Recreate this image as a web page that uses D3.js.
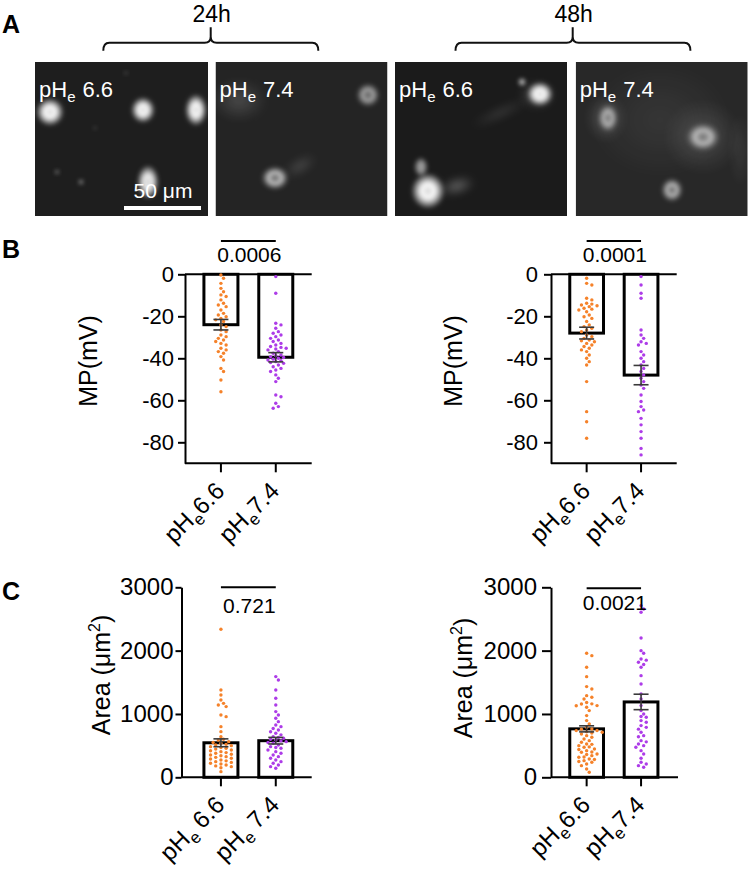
<!DOCTYPE html>
<html>
<head>
<meta charset="utf-8">
<script src="https://cdn.jsdelivr.net/npm/d3@7"></script>
<style>
  body { margin: 0; background: #fff; }
  text { font-family: "Liberation Sans", Arial, Helvetica, sans-serif; }
</style>
</head>
<body>
<svg id="fig" width="749" height="873"></svg>
<script>
// ---------------------------------------------------------------
// Données
const groups = ["6.6", "7.4"];            // pHe des deux conditions
const groupColors = ["#f5822a", "#ad3ce8"];

const mpTicks = [0, -20, -40, -60, -80];
const areaTicks = [0, 1000, 2000, 3000];

const mpMean24 = [-24, -39.5];
const mpSem24 = [2.5, 2.2];
const mpMean48 = [-28, -48];
const mpSem48 = [2.8, 4.6];
const areaMean24 = [545, 578];
const areaSem24 = [62, 52];
const areaMean48 = [765, 1190];
const areaSem48 = [48, 122];

const pValues = ["0.0006", "0.0001", "0.721", "0.0021"];

// potentiel de membrane (mV), 24h
const mpAcid24 = [-0.3, -1.9, -4.3, -6.7, -8.3, -9.8, -10.6, -12.2, -13.8, -14.6, -15.4, -17, -18.6, -19.4,
  -20.2, -21, -21.7, -22.5, -24.1, -24.9, -26.5, -27.3, -28.9, -29.7, -30.5, -31.3, -32, -32.9, -33.7,
  -35.2, -36, -36.8, -37.6, -39.2, -40.8, -44.8, -46.3, -50.3, -55.9];
const mpNeutral24 = [-1.1, -9, -23.3, -24.1, -25.7, -27.3, -28.1, -28.9, -29.7, -30.5, -31.3, -32, -32.9,
  -33.7, -34.4, -35.2, -36, -36.8, -37.6, -38.4, -39.2, -40, -40.8, -41.6, -42.4, -43.2, -44, -44.8, -45.6,
  -46.3, -47.9, -49.5, -51.1, -57.5, -58.3, -61.4, -63, -63.8, -38.8, -39.6, -40.4, -41.2, -42, -35.6, -34.8];
// potentiel de membrane (mV), 48h
const mpAcid48 = [-1.9, -4.3, -5.1, -11.4, -12.2, -13.8, -14.6, -15.4, -16.2, -17, -17.8, -19.4, -21, -22.5,
  -24.1, -24.9, -25.7, -27.3, -28.9, -30.5, -31.3, -32.1, -32.9, -33.7, -34.4, -35.2, -36, -36.8, -38.4, -40,
  -41.6, -43.2, -51.1, -65.4, -70.2, -78.1, -14.2, -15, -16.6, -20.2, -26.5, -29.7, -31.7];
const mpNeutral48 = [-1.1, -5.1, -9, -11.4, -26.5, -28.9, -30.5, -32.1, -32.9, -33.7, -36.8, -38.4, -40, -41.6,
  -43.2, -44.8, -46.3, -47.9, -49.5, -51.1, -52.7, -54.3, -57.5, -60.6, -63, -64.6, -65.4, -68.6, -71.7,
  -74.9, -78.1, -82.9, -86];
// surface cellulaire (µm²), 24h
const areaAcid24 = [2337, 1379, 1300, 1221, 1168, 1142, 1116, 984, 958, 800, 721, 642, 600, 589, 563, 550, 537,
  520, 510, 500, 484, 470, 458, 445, 431, 420, 405, 390, 379, 365, 353, 340, 326, 315, 300, 290, 274, 260, 247,
  235, 221, 210, 195, 180, 168, 150, 89];
const areaNeutral24 = [1590, 1537, 1379, 1247, 1142, 1037, 984, 932, 879, 826, 800, 770, 747, 720, 695, 670, 642,
  630, 616, 600, 589, 575, 563, 550, 537, 510, 484, 470, 458, 431, 405, 379, 353, 326, 300, 274, 247, 221, 195,
  168, 142];
// surface cellulaire (µm²), 48h
const areaAcid48 = [1958, 1921, 1737, 1589, 1432, 1395, 1289, 1263, 1237, 1158, 1132, 1105, 1053, 974, 895, 842,
  789, 763, 737, 711, 684, 658, 632, 605, 579, 553, 526, 500, 474, 447, 421, 395, 368, 342, 316, 289, 263, 237,
  184, 132, 79, 1180, 1160, 1130, 760, 740, 720, 700, 520, 480, 440, 400, 360, 320, 280, 250, 210];
const areaNeutral48 = [2711, 2658, 2605, 2200, 2000, 1958, 1868, 1816, 1737, 1605, 1474, 1316, 1237, 1132, 1053,
  1000, 947, 895, 816, 789, 711, 658, 579, 526, 500, 474, 421, 368, 237, 211, 184, 158, 1780, 1850, 960, 870,
  760, 640, 560, 300];

// ---------------------------------------------------------------
const svg = d3.select("#fig");
const defs = svg.append("defs");

[["blur", 2.2], ["blurMid", 4], ["blurBig", 9]].forEach(f =>
  defs.append("filter").attr("id", f[0]).attr("x", "-60%").attr("y", "-60%").attr("width", "220%").attr("height", "220%")
    .append("feGaussianBlur").attr("stdDeviation", f[1]));

// dégradés : cellule compacte et cellule étalée (noyau plus sombre, anneau clair)
const gradStops = {
  cell: [[0, "#d0d0d0", 1], [0.4, "#ffffff", 1], [0.7, "#ffffff", 0.55], [1, "#ffffff", 0]],
  ring: [[0, "#9a9a9a", 0.55], [0.5, "#ffffff", 0.9], [0.72, "#ffffff", 0.35], [1, "#ffffff", 0]],
  haze: [[0, "#ffffff", 0.6], [1, "#ffffff", 0]]
};
Object.entries(gradStops).forEach(([id, stops]) => {
  const gr = defs.append("radialGradient").attr("id", id);
  stops.forEach(s => gr.append("stop").attr("offset", s[0]).attr("stop-color", s[1]).attr("stop-opacity", s[2]));
});

// ---------------------------------------------------------------
// Panneau A : images de microscopie (approximation)
const microPanels = [
  { x: 35, w: 173, bg: "#1e1e1e", label: "6.6" },
  { x: 215.5, w: 172, bg: "#242424", label: "7.4" },
  { x: 395, w: 172, bg: "#1b1b1b", label: "6.6" },
  { x: 575.7, w: 172, bg: "#282828", label: "7.4" }
];
const microCells = [
  [ { cx: 50, cy: 112, rx: 14, ry: 14, o: 1 }, { cx: 143, cy: 110, rx: 12, ry: 13, o: 1 },
    { cx: 196, cy: 110, rx: 11, ry: 16, o: 1 }, { cx: 148, cy: 182, rx: 11, ry: 17, o: 0.95 },
    { cx: 57, cy: 172, rx: 2, ry: 2, o: 0.7 }, { cx: 81, cy: 182, rx: 2.5, ry: 2.5, o: 0.7 },
    { cx: 126, cy: 73, rx: 1.5, ry: 1.5, o: 0.5 }, { cx: 95, cy: 128, rx: 1.5, ry: 1.5, o: 0.4 } ],
  [ { cx: 239, cy: 100, rx: 28, ry: 22, o: 0.3, f: "blurMid", gr: "haze" }, { cx: 368, cy: 95, rx: 12, ry: 12, o: 0.7, gr: "ring" },
    { cx: 300, cy: 166, rx: 18, ry: 7, o: 0.35, rot: -30, f: "blurMid", gr: "haze" },
    { cx: 275, cy: 178, rx: 14, ry: 12, o: 0.85, gr: "ring" } ],
  [ { cx: 500, cy: 113, rx: 32, ry: 5, o: 0.3, rot: -24, f: "blurMid", gr: "haze" },
    { cx: 522, cy: 82, rx: 4, ry: 4, o: 0.8 },
    { cx: 537, cy: 95, rx: 18, ry: 14, o: 0.45, f: "blurMid", gr: "haze" },
    { cx: 540, cy: 94, rx: 13, ry: 12, o: 1 },
    { cx: 457, cy: 186, rx: 18, ry: 8, o: 0.65, rot: -15, f: "blurMid", gr: "haze" },
    { cx: 421, cy: 167, rx: 7, ry: 10, o: 0.6 },
    { cx: 428, cy: 191, rx: 17, ry: 18, o: 1 } ],
  [ { cx: 660, cy: 120, rx: 75, ry: 60, o: 0.12, f: "blurBig", gr: "haze" },
    { cx: 606, cy: 118, rx: 20, ry: 24, o: 0.35, f: "blurMid", gr: "haze" },
    { cx: 608, cy: 118, rx: 10, ry: 14, o: 0.7, gr: "ring" },
    { cx: 703, cy: 137, rx: 40, ry: 38, o: 0.25, f: "blurMid", gr: "haze" },
    { cx: 703, cy: 137, rx: 17, ry: 14, o: 0.75, gr: "ring" },
    { cx: 672, cy: 190, rx: 11, ry: 12, o: 0.8, gr: "ring" },
    { cx: 740, cy: 150, rx: 10, ry: 40, o: 0.15, f: "blurMid", gr: "haze" } ]
];
const imgTop = 62, imgH = 154;

microPanels.forEach((p, i) => {
  const clipId = `clip${i}`;
  defs.append("clipPath").attr("id", clipId)
    .append("rect").attr("x", p.x).attr("y", imgTop).attr("width", p.w).attr("height", imgH);
  const g = svg.append("g").attr("clip-path", `url(#${clipId})`);
  g.append("rect").attr("x", p.x).attr("y", imgTop).attr("width", p.w).attr("height", imgH).attr("fill", p.bg);
  g.selectAll("ellipse").data(microCells[i]).join("ellipse")
    .attr("cx", d => d.cx).attr("cy", d => d.cy).attr("rx", d => d.rx).attr("ry", d => d.ry)
    .attr("transform", d => d.rot ? `rotate(${d.rot},${d.cx},${d.cy})` : null)
    .attr("fill", d => `url(#${d.gr || "cell"})`).attr("opacity", d => d.o)
    .attr("filter", d => `url(#${d.f || "blur"})`);

  const t = svg.append("text").attr("x", p.x + 4).attr("y", 97).attr("fill", "#fff").attr("font-size", 22);
  t.append("tspan").text("pH");
  t.append("tspan").attr("font-size", 15).attr("dy", 5).text("e");
  t.append("tspan").attr("dy", -5).attr("dx", 7).text(p.label);
});

// barre d'échelle
svg.append("rect").attr("x", 124).attr("y", 206).attr("width", 77).attr("height", 4).attr("fill", "#fff");
svg.append("text").attr("x", 163).attr("y", 198).attr("text-anchor", "middle").attr("fill", "#fff")
  .attr("font-size", 21).text("50 μm");

// accolades 24h / 48h
const braces = [{ label: "24h", x0: 103.3, x1: 318.3, tip: 210.7 }, { label: "48h", x0: 455.5, x1: 690.4, tip: 572.7 }];
braces.forEach(b => {
  const yH = 42.7, yEnd = 50.7, yTip = 27.3, r = 6;
  const path = `M${b.x0},${yEnd} Q${b.x0},${yH} ${b.x0 + r},${yH} H${b.tip - r} Q${b.tip},${yH} ${b.tip},${yH - r} V${yTip}
    M${b.tip},${yH - r} Q${b.tip},${yH} ${b.tip + r},${yH} H${b.x1 - r} Q${b.x1},${yH} ${b.x1},${yEnd}`;
  svg.append("path").attr("d", path).attr("fill", "none").attr("stroke", "#111").attr("stroke-width", 2);
  svg.append("text").attr("x", b.tip + 1).attr("y", 22).attr("text-anchor", "middle").attr("font-size", 23).text(b.label);
});

// lettres des panneaux
[["A", 2, 33], ["B", 2, 258], ["C", 2, 600]].forEach(l =>
  svg.append("text").attr("x", l[1]).attr("y", l[2]).attr("font-size", 25).attr("font-weight", "bold").text(l[0]));

// ---------------------------------------------------------------
// Disposition en essaim (déterministe) des points individuels
function swarm(values, y, minDist, step) {
  const pts = values.map(v => ({ v, py: y(v) })).sort((a, b) => a.py - b.py);
  const placed = [];
  pts.forEach(d => {
    for (let k = 0; k < 40; k++) {
      const off = (k % 2 ? 1 : -1) * Math.ceil(k / 2) * step;
      const hit = placed.some(p => Math.abs(p.py - d.py) < minDist && Math.hypot(p.off - off, p.py - d.py) < minDist);
      if (!hit) { d.off = off; break; }
    }
    placed.push(d);
  });
  return pts;
}

// ---------------------------------------------------------------
// Graphiques à barres
function barChart(cfg) {
  const g = svg.append("g");
  const x = d3.scaleBand().domain(groups).range(cfg.band).paddingInner(0.38).paddingOuter(0.345);
  const y = d3.scaleLinear().domain(cfg.domain).range([cfg.yBottom, cfg.yTop]);
  const bw = x.bandwidth();
  const cx = k => x(k) + bw / 2;

  // axe Y
  g.append("g")
    .attr("transform", `translate(${cfg.x0},0)`)
    .call(d3.axisLeft(y).tickValues(cfg.ticks).tickFormat(d => String(d))
      .tickSize(cfg.tickSize).tickPadding(cfg.tickPad).tickSizeOuter(0))
    .call(a => a.selectAll("path, line").attr("stroke", "#000").attr("stroke-width", 2))
    .call(a => a.selectAll("text").attr("fill", "#000").attr("font-size", cfg.tickFont)
      .attr("font-family", '"Liberation Sans", Arial, sans-serif'));

  // axe X (en bas)
  const yBase = y(cfg.domain[0] < 0 ? cfg.domain[0] : 0);
  g.append("g")
    .attr("transform", `translate(0,${yBase})`)
    .call(d3.axisBottom(x).tickSize(9).tickSizeOuter(0).tickFormat(""))
    .call(a => a.select(".domain").attr("d", `M${cfg.x0},0H${cfg.x1}`))
    .call(a => a.selectAll("path, line").attr("stroke", "#000").attr("stroke-width", 2));

  // ligne du zéro (potentiels négatifs)
  if (cfg.domain[0] < 0) {
    g.append("line").attr("x1", cfg.x0).attr("x2", cfg.x1).attr("y1", y(0)).attr("y2", y(0))
      .attr("stroke", "#000").attr("stroke-width", 2);
  }

  // barres
  g.selectAll(".bar").data(groups).join("rect").attr("class", "bar")
    .attr("x", d => x(d)).attr("width", bw)
    .attr("y", (d, i) => Math.min(y(0), y(cfg.means[i])))
    .attr("height", (d, i) => Math.abs(y(cfg.means[i]) - y(0)))
    .attr("fill", "#fff").attr("stroke", "#000").attr("stroke-width", 3);

  // points individuels
  cfg.points.forEach((vals, i) => {
    const pts = swarm(vals, y, 3.6, 2.6);
    g.append("g").selectAll("circle").data(pts).join("circle")
      .attr("cx", d => cx(groups[i]) + d.off).attr("cy", d => d.py).attr("r", 1.7)
      .attr("fill", groupColors[i]);
  });

  // erreurs standard
  groups.forEach((k, i) => {
    const m = cfg.means[i], s = cfg.sems[i];
    const eg = g.append("g").attr("stroke", "#3a3a3a").attr("stroke-width", 1.6);
    eg.append("line").attr("x1", cx(k)).attr("x2", cx(k)).attr("y1", y(m - s)).attr("y2", y(m + s));
    [m - s, m + s].forEach(v => eg.append("line").attr("x1", cx(k) - 7.5).attr("x2", cx(k) + 7.5)
      .attr("y1", y(v)).attr("y2", y(v)));
  });

  // significativité
  g.append("line").attr("x1", cx(groups[0])).attr("x2", cx(groups[1])).attr("y1", cfg.sigY).attr("y2", cfg.sigY)
    .attr("stroke", "#000").attr("stroke-width", 2);
  g.append("text").attr("x", (cx(groups[0]) + cx(groups[1])) / 2 + 1).attr("y", cfg.sigTextY)
    .attr("text-anchor", "middle").attr("font-size", 21).text(cfg.p);

  // titre de l'axe Y
  const yl = g.append("text").attr("transform", `translate(${cfg.yLabel[0]},${cfg.yLabel[1]}) rotate(-90)`)
    .attr("text-anchor", "middle").attr("font-size", 25);
  if (cfg.unit === "mv") {
    yl.text("MP(mV)");
  } else {
    yl.append("tspan").text("Area (μm");
    yl.append("tspan").attr("font-size", 16).attr("dy", -10).text("2");
    yl.append("tspan").attr("dy", 10).text(")");
  }

  // étiquettes X inclinées
  groups.forEach(k => {
    const t = g.append("text")
      .attr("transform", `translate(${cx(k) + 5},${yBase + 9 + cfg.xLabDy}) rotate(-45)`)
      .attr("text-anchor", "end").attr("font-size", 24);
    t.append("tspan").text("pH");
    t.append("tspan").attr("font-size", 17).attr("dy", 6).text("e");
    t.append("tspan").attr("dy", -6).attr("dx", cfg.gap).text(k);
  });
}

barChart({ band: [185, 311.7], x0: 185, x1: 311.7, yTop: 274.3, yBottom: 463.3, domain: [-90, 0], ticks: mpTicks,
  tickSize: 7, tickPad: 4, tickFont: 22, means: mpMean24, sems: mpSem24, points: [mpAcid24, mpNeutral24],
  sigY: 241, sigTextY: 262, p: pValues[0], unit: "mv", yLabel: [97, 361], xLabDy: 20, gap: 0 });
barChart({ band: [551, 676.7], x0: 551, x1: 676.7, yTop: 274.3, yBottom: 463.3, domain: [-90, 0], ticks: mpTicks,
  tickSize: 7, tickPad: 6, tickFont: 22, means: mpMean48, sems: mpSem48, points: [mpAcid48, mpNeutral48],
  sigY: 241, sigTextY: 262, p: pValues[1], unit: "mv", yLabel: [462, 361], xLabDy: 20, gap: 0 });
barChart({ band: [185, 311.7], x0: 181.5, x1: 311.7, yTop: 587.3, yBottom: 777.3, domain: [0, 3000], ticks: areaTicks,
  tickSize: 6, tickPad: 2, tickFont: 24, means: areaMean24, sems: areaSem24, points: [areaAcid24, areaNeutral24],
  sigY: 587.3, sigTextY: 613, p: pValues[2], unit: "area", yLabel: [110, 675], xLabDy: 20, gap: 6 });
barChart({ band: [551, 676.7], x0: 551, x1: 678, yTop: 587.3, yBottom: 777.3, domain: [0, 3000], ticks: areaTicks,
  tickSize: 9, tickPad: 5, tickFont: 24, means: areaMean48, sems: areaSem48, points: [areaAcid48, areaNeutral48],
  sigY: 588.3, sigTextY: 610, p: pValues[3], unit: "area", yLabel: [471.7, 678], xLabDy: 20, gap: 0 });
</script>
</body>
</html>
